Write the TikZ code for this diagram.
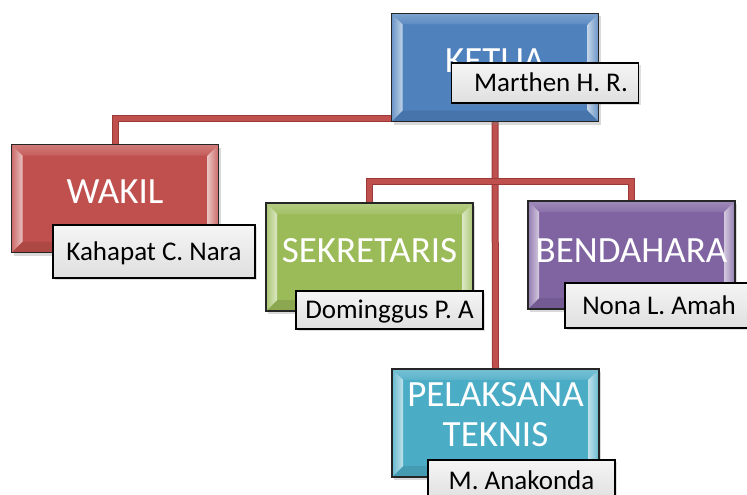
\documentclass[tikz,border=0pt]{standalone}
\usepackage{fontspec}
\setmainfont{Carlito}
\usetikzlibrary{calc,shadows,backgrounds}

\definecolor{kblue}{HTML}{4F81BD}
\definecolor{kred}{HTML}{C0504D}
\definecolor{kgreen}{HTML}{9BBB59}
\definecolor{kpurple}{HTML}{8064A2}
\definecolor{kaqua}{HTML}{4BACC6}
\definecolor{linkred}{HTML}{C0504D}
\definecolor{linkdark}{HTML}{9A3B38}

\tikzset{
  post/.style={fill=#1, draw=black!85, line width=1.5pt, inner sep=0pt, outer sep=0pt,
    minimum width=207pt, minimum height=108pt,
    drop shadow={shadow xshift=2pt, shadow yshift=-3pt, opacity=0.3}},
  title/.style={text=white, anchor=base, inner sep=0pt, font=\fontsize{37}{42}\selectfont},
  tag/.style={draw=black, line width=1.5pt, top color=gray!8, bottom color=gray!25,
    inner sep=0pt, outer sep=0pt, text height=17.5pt, text depth=0pt,
    font=\fontsize{27}{31}\selectfont,
    drop shadow={shadow xshift=2pt, shadow yshift=-2pt, opacity=0.25}},
  link/.style={draw=linkred, line width=5pt,
    preaction={draw=linkdark, line width=7pt}},
}

% bevelled edges of a post box: #1 node name, #2 base colour
\newcommand\bevel[2]{%
  \path[top color=#2!75!white, bottom color=#2!92!white]
    (#1.north west) -- (#1.north east) -- ($(#1.north east)+(-11,11)$) -- ($(#1.north west)+(11,11)$) -- cycle;
  \path[fill=#2!90!black]
    (#1.south west) -- (#1.south east) -- ($(#1.south east)+(-11,-11)$) -- ($(#1.south west)+(11,-11)$) -- cycle;
  \path[left color=#2!85!white, right color=#2!35!white]
    (#1.north west) -- (#1.south west) -- ($(#1.south west)+(11,-11)$) -- ($(#1.north west)+(11,11)$) -- cycle;
  \path[right color=#2!85!white, left color=#2!35!white]
    (#1.north east) -- (#1.south east) -- ($(#1.south east)+(-11,-11)$) -- ($(#1.north east)+(-11,11)$) -- cycle;
  \draw[black!85, line width=1.5pt] (#1.north west) rectangle (#1.south east);
}

\begin{document}
\begin{tikzpicture}[x=1pt, y=-1pt]
  \useasboundingbox (0,0) rectangle (747,495);
  \clip (0,0) rectangle (747,495);

  % boxes
  \node[post=kblue]   (ketua)  at (495,67.5)  {};
  \node[post=kred]    (wakil)  at (115,198.5) {};
  \node[post=kgreen]  (sek)    at (369.5,257) {};
  \node[post=kpurple] (ben)    at (631.5,255) {};
  \node[post=kaqua]   (teknis) at (495.5,423) {};
  \bevel{ketua}{kblue}
  \bevel{wakil}{kred}
  \bevel{sek}{kgreen}
  \bevel{ben}{kpurple}
  \bevel{teknis}{kaqua}

  % connectors behind the boxes
  \begin{scope}[on background layer]
    \coordinate (hub) at (ketua.south |- 0,181);
    \draw[link] (ketua.south) -- (teknis.north);
    \draw[link] (wakil.north) |- ([yshift=3pt]ketua.south);
    \draw[link] (sek.north) |- (hub) -| (ben.north);
  \end{scope}

  % titles
  \node[title] (ketua-t)   at ($(ketua)+(0,5)$)   {KETUA};
  \node[title] (wakil-t)   at ($(wakil)+(0,4.5)$) {WAKIL};
  \node[title] (sek-t)     at ($(sek)+(0,5)$)     {SEKRETARIS};
  \node[title] (ben-t)     at ($(ben)+(0,7)$)     {BENDAHARA};
  \node[title] (teknis-t1) at (495.5,406)         {PELAKSANA};
  \node[title] (teknis-t2) at (495.5,446)         {TEKNIS};

  % name tags
  \node[tag, minimum width=187pt, minimum height=40pt] (ketua-n)  at (545,83)      {\hspace*{12pt}Marthen H. R.};
  \node[tag, minimum width=200pt, minimum height=45pt] (ben-n)    at (665,305.5)   {\hspace*{-12pt}Nona L. Amah};
  \node[tag, minimum width=202pt, minimum height=53pt] (wakil-n)  at (154,251.5)   {Kahapat C. Nara};
  \node[tag, minimum width=187pt, minimum height=38pt] (sek-n)    at (389.5,310)   {Dominggus P. A};
  \node[tag, minimum width=187pt, minimum height=42pt] (teknis-n) at (521.5,481)   {M. Anakonda};
\end{tikzpicture}
\end{document}
